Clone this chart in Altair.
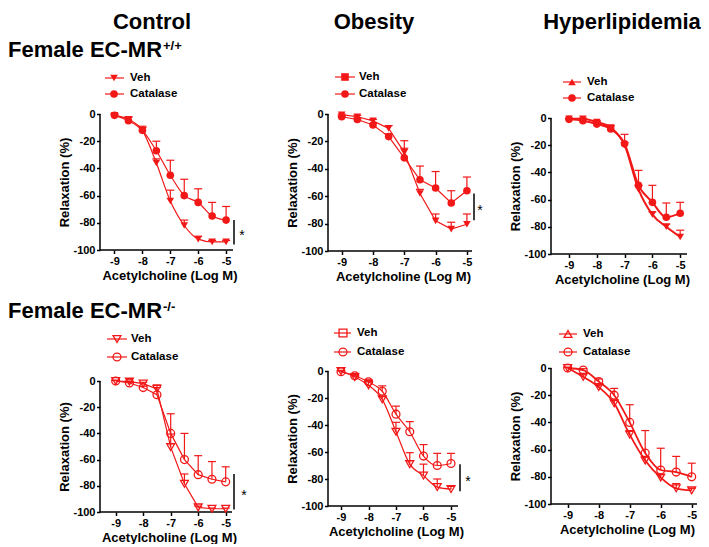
import altair as alt
import pandas as pd

# ---------------- data ----------------
log_conc = [-9, -8.5, -8, -7.5, -7, -6.5, -6, -5.5, -5]
series_names = ["Veh", "Catalase"]
column_titles = ["Control", "Obesity", "Hyperlipidemia"]
row_titles = ["Female EC-MR", "Female EC-MR"]
row_superscripts = ["+/+", "-/-"]
x_tick_values = [-9, -8, -7, -6, -5]
y_tick_values = [0, -20, -40, -60, -80, -100]
x_title = "Acetylcholine (Log M)"
y_title = "Relaxation (%)"
sig_text = "*"

# Female EC-MR+/+
ctrl_wt_veh = [-1, -4, -12, -36, -64, -82, -92, -94, -94]
ctrl_wt_veh_sem = [1, 2, 2, 3, 8, 4, 2, 1, 1]
ctrl_wt_cat = [-1, -5, -12, -27, -45, -60, -65, -75, -78]
ctrl_wt_cat_sem = [1, 2.5, 3, 7, 11, 12, 10, 10, 10]
obes_wt_veh = [-0.5, -2, -5, -10.5, -28, -58, -78, -84, -80.5]
obes_wt_veh_sem = [0.5, 1, 1, 2, 3, 3, 5, 5, 7.5]
obes_wt_cat = [-2, -4, -8, -16.5, -32, -48, -54, -65, -56]
obes_wt_cat_sem = [0.5, 1, 1, 2, 12.5, 10, 12, 9, 10]
hyper_wt_veh = [-0.5, -0.5, -3, -7, -20, -52.5, -71, -80, -87.5]
hyper_wt_veh_sem = [0.5, 0.5, 1, 1, 2, 3, 2, 2, 5]
hyper_wt_cat = [-1, -2, -4.5, -8, -19, -49.5, -62, -73, -70]
hyper_wt_cat_sem = [0.5, 1, 2, 2.5, 7, 11, 12.5, 10.5, 8]
# Female EC-MR-/-
ctrl_ko_veh = [0, -0.5, -2, -6, -50.5, -78.5, -96.5, -97.5, -97.5]
ctrl_ko_veh_sem = [0.5, 0.5, 1, 1, 10, 7.5, 1, 0.5, 0.5]
ctrl_ko_cat = [0, -1.5, -5, -10.5, -40, -60, -71.5, -75, -77]
ctrl_ko_cat_sem = [0.5, 0.5, 1, 7.5, 15, 20, 14.5, 13.5, 11.5]
obes_ko_veh = [0, -4.5, -10.5, -21, -45, -69, -77.5, -86, -87.5]
obes_ko_veh_sem = [0.5, 1, 3.5, 2, 7, 8.5, 8.5, 6, 2]
obes_ko_cat = [-0.5, -3.5, -8, -15, -32, -45, -63, -70, -68.5]
obes_ko_cat_sem = [0.5, 1, 1.5, 4, 6, 7.5, 8.5, 9, 7.5]
hyper_ko_veh = [0, -6.5, -14, -26, -49, -68, -80.5, -88.5, -90]
hyper_ko_veh_sem = [0.5, 1.5, 2, 2, 3, 3, 2, 3.5, 1.5]
hyper_ko_cat = [0, -1.5, -10, -20, -40, -62.5, -75, -76.5, -80]
hyper_ko_cat_sem = [0.5, 1, 2, 5, 13, 16.5, 16, 11.5, 10]

# significance bars (value range, Relaxation %)
sig_ctrl_wt = [-78, -96]
sig_obes_wt = [-58, -77.5]
sig_ctrl_ko = [-71, -98]
sig_obes_ko = [-69, -89]

# ---------------- layout / style ----------------
RED = "#f21818"
FONT = "Liberation Sans"
COL_LEFT = [100, 328, 551]
CELL_W = [228, 223, 150]
ROW_TOP = [113, 367]
PAD_TOP = 3


def one(label):
    return pd.DataFrame({"label": [label]})


def panel(veh, veh_sem, cat, cat_sem, r, c, t9, k, x_end, y0, yB, veh_shape,
          filled, interp, lw, leg, sig=None, header=None):
    L = COL_LEFT[c]
    T = ROW_TOP[r]
    W = CELL_W[c]
    ppu = (yB - y0) / 100.0
    lo = -9 - (t9 - L) / k
    hi = lo + W / k
    ytop = (y0 - T) / ppu
    H = yB - T
    xend = lo + (x_end - L) / k

    df = pd.DataFrame({
        "x": log_conc * 2,
        "y": veh + cat,
        "sem": veh_sem + cat_sem,
        "g": ["Veh"] * len(veh) + ["Catalase"] * len(cat),
    })
    df["top"] = df["y"] + df["sem"]

    xs = alt.Scale(domain=[lo, hi], nice=False, zero=False)
    ys = alt.Scale(domain=[-100, ytop], nice=False, zero=False)
    xax = alt.Axis(values=x_tick_values, domain=False, labelExpr="'' + datum.value",
                   labelFlush=False, labelOverlap=False, title=x_title,
                   titleX=(x_end - L) / 2 + 3)
    yax = alt.Axis(values=y_tick_values, domain=False, labelExpr="'' + datum.value",
                   labelOverlap=False, labelFlush=False,
                   title=y_title, titleY=((y0 - T) + (yB - T)) / 2)

    def X(f=None, datum=None):
        if datum is not None:
            return alt.X(datum=datum, type="quantitative", scale=xs, axis=xax)
        return alt.X(f, type="quantitative", scale=xs, axis=xax)

    def Y(f=None, datum=None):
        if datum is not None:
            return alt.Y(datum=datum, type="quantitative", scale=ys, axis=yax)
        return alt.Y(f, type="quantitative", scale=ys, axis=yax)

    base = alt.Chart(df)
    layers = []
    axis_df = one("axis")
    layers.append(alt.Chart(axis_df).mark_rule(color="black", strokeWidth=1.5).encode(
        x=X(datum=lo), y=Y(datum=0), y2=alt.datum(-100)))
    layers.append(alt.Chart(axis_df).mark_rule(color="black", strokeWidth=1.5).encode(
        x=X(datum=lo), x2=alt.datum(xend), y=Y(datum=-100)))
    layers.append(base.mark_line(color=RED, strokeWidth=lw, interpolate=interp).encode(
        x=X("x"), y=Y("y"), detail="g:N"))
    layers.append(base.mark_rule(color=RED, strokeWidth=1.2).encode(
        x=X("x"), y=Y("y"), y2="top:Q"))
    layers.append(base.mark_rule(color=RED, strokeWidth=1.2, xOffset=-4, x2Offset=4).encode(
        x=X("x"), x2="x:Q", y=Y("top")))
    pt_kw = dict(filled=filled, color=RED, opacity=1, size=58 if filled else 62,
                 strokeWidth=1.3)
    layers.append(base.mark_point(**pt_kw).encode(
        x=X("x"), y=Y("y"),
        shape=alt.Shape("g:N", scale=alt.Scale(domain=series_names,
                                                range=[veh_shape, "circle"]),
                        legend=None)))

    # legend
    for name, yy in zip(series_names, leg["y"]):
        shp = veh_shape if name == "Veh" else "circle"
        d = one(name)
        layers.append(alt.Chart(d).mark_rule(color=RED, strokeWidth=1.2).encode(
            x=alt.value(leg["a"]), x2=alt.value(leg["b"]), y=alt.value(yy)))
        layers.append(alt.Chart(d).mark_point(shape=shp, **pt_kw).encode(
            x=alt.value(leg["m"]), y=alt.value(yy)))
        layers.append(alt.Chart(d).mark_text(
            align="left", baseline="middle", font=FONT, fontWeight="bold",
            fontSize=11.5, color="black").encode(
            x=alt.value(leg["t"]), y=alt.value(yy), text="label:N"))

    # significance
    if sig is not None:
        vals, px, dx = sig
        d = one("sig")
        layers.append(alt.Chart(d).mark_rule(color="black", strokeWidth=1.5).encode(
            x=alt.value(px), y=Y(datum=vals[0]), y2=alt.datum(vals[1])))
        layers.append(alt.Chart(d).mark_text(
            font=FONT, fontSize=14, color="black", align="center",
            baseline="middle", dy=4, text=sig_text).encode(
            x=alt.value(px + dx), y=Y(datum=(vals[0] + vals[1]) / 2)))

    # headers
    if header is not None:
        for txt, xx, yy, fs, al, bl in header:
            layers.append(alt.Chart(one(txt)).mark_text(
                font=FONT, fontWeight="bold", fontSize=fs, color="black",
                align=al, baseline=bl).encode(
                x=alt.value(xx), y=alt.value(yy), text="label:N"))

    return alt.layer(*layers).properties(width=W, height=H)


TITLE_Y = -(ROW_TOP[0] - 8 - PAD_TOP)
hdr1 = [
    (column_titles[0], 52, TITLE_Y, 22, "center", "top"),
    (column_titles[1], 274, TITLE_Y, 22, "center", "top"),
    (column_titles[2], 522, TITLE_Y, 22, "center", "top"),
    (row_titles[0], -92, -64, 22, "left", "middle"),
    (row_superscripts[0], 63, -68, 13, "left", "middle"),
]
hdr2 = [
    (row_titles[1], -92, -57, 22, "left", "middle"),
    (row_superscripts[1], 63, -61, 13, "left", "middle"),
]

p11 = panel(ctrl_wt_veh, ctrl_wt_veh_sem, ctrl_wt_cat, ctrl_wt_cat_sem, 0, 0,
            t9=114.5, k=27.9, x_end=233, y0=113, yB=249, veh_shape="triangle-down",
            filled=True, interp="monotone", lw=1.2,
            leg=dict(a=5, b=24, m=14, t=30, y=[-36, -20]),
            sig=(sig_ctrl_wt, 134, 8), header=hdr1)
p12 = panel(obes_wt_veh, obes_wt_veh_sem, obes_wt_cat, obes_wt_cat_sem, 0, 1,
            t9=341.7, k=31.3, x_end=472, y0=113, yB=250, veh_shape="square",
            filled=True, interp="linear", lw=1.2,
            leg=dict(a=7, b=27, m=17, t=31, y=[-37, -20]),
            sig=(sig_obes_wt, 146, 6))
p13 = panel(hyper_wt_veh, hyper_wt_veh_sem, hyper_wt_cat, hyper_wt_cat_sem, 0, 2,
            t9=569, k=27.8, x_end=687, y0=117, yB=253, veh_shape="triangle-up",
            filled=True, interp="monotone", lw=2,
            leg=dict(a=12, b=30, m=21, t=36, y=[-32, -16]))
p21 = panel(ctrl_ko_veh, ctrl_ko_veh_sem, ctrl_ko_cat, ctrl_ko_cat_sem, 1, 0,
            t9=115.7, k=27.5, x_end=232, y0=380, yB=511, veh_shape="triangle-down",
            filled=False, interp="linear", lw=1.2,
            leg=dict(a=7, b=27, m=17, t=31, y=[-29, -11]),
            sig=(sig_ctrl_ko, 134, 10), header=hdr2)
p22 = panel(obes_ko_veh, obes_ko_veh_sem, obes_ko_cat, obes_ko_cat_sem, 1, 1,
            t9=341, k=27.5, x_end=458, y0=370, yB=505, veh_shape="square",
            filled=False, interp="monotone", lw=1.2,
            leg=dict(a=6, b=23, m=15, t=29, y=[-35, -16]),
            sig=(sig_obes_ko, 132, 8))
p23 = panel(hyper_ko_veh, hyper_ko_veh_sem, hyper_ko_cat, hyper_ko_cat_sem, 1, 2,
            t9=567.7, k=31, x_end=697, y0=367, yB=503, veh_shape="triangle-up",
            filled=False, interp="monotone", lw=1.8,
            leg=dict(a=8, b=26, m=17, t=32, y=[-34, -16]))

chart = alt.concat(
    p11, p12, p13, p21, p22, p23,
    columns=3,
    spacing={"row": ROW_TOP[1] - ROW_TOP[0] - 140, "column": 0},
    bounds="flush",
).properties(
    padding={"top": PAD_TOP, "left": 0, "right": 0, "bottom": 0}
).configure(
    font=FONT
).configure_view(
    stroke=None
).configure_axis(
    grid=False, domain=False,
    labelFont=FONT, labelFontSize=11, labelFontWeight="bold", labelColor="black",
    titleFont=FONT, titleFontSize=13, titleFontWeight="bold", titleColor="black",
    tickColor="black", tickWidth=1.5, tickSize=3.5, labelPadding=1.5,
).configure_axisX(
    titlePadding=3
).configure_axisY(
    titlePadding=1
)

chart.save("out.html", embed_options={"renderer": "svg", "actions": False})
